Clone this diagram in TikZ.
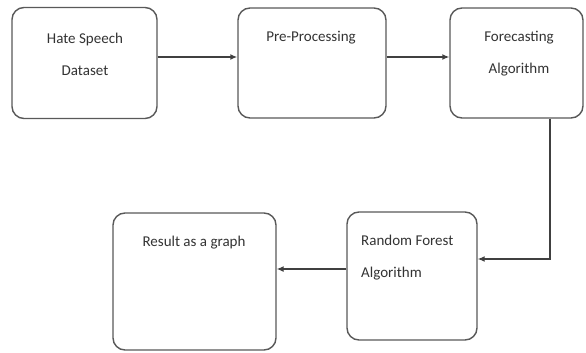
\documentclass[tikz,border=0pt]{standalone}
\usepackage{fontspec}
\setmainfont{Carlito}
\usetikzlibrary{arrows.meta}
\begin{document}
\begin{tikzpicture}[x=1pt,y=-1pt,
  stage/.style={draw=black!65, line width=1.4pt, rounded corners=12pt, fill=white, inner sep=0pt},
  caption/.style={font=\fontsize{15}{32}\selectfont, text=black!80, align=center, inner sep=0pt},
  flow/.style={draw=black!75, line width=1.6pt, -{Latex[length=7pt,width=6pt]}}]
  \useasboundingbox (0,0) rectangle (586,353);
  % process boxes
  \node[stage, minimum width=145pt, minimum height=111pt] (data) at (84.5,63) {};
  \node[stage, minimum width=148pt, minimum height=110pt] (prep) at (312,63) {};
  \node[stage, minimum width=133pt, minimum height=110pt] (fore) at (516.5,63) {};
  \node[stage, minimum width=130pt, minimum height=128pt] (rf) at (412,276) {};
  \node[stage, minimum width=163pt, minimum height=137pt] (res) at (194.5,281.5) {};
  % box captions
  \node[caption] (tdata) at (85,54) {Hate Speech\\Dataset};
  \node[caption] (tprep) at (311,38) {Pre-Processing};
  \node[caption] (tfore) at (519,54) {Forecasting\\Algorithm};
  \node[caption, align=left, anchor=west] (trf) at (361,258) {Random Forest\\Algorithm};
  \node[caption] (tres) at (194,243) {Result as a graph};
  % connectors
  \draw[flow] ([yshift=6pt]data.east) -- ([yshift=6pt]prep.west);
  \draw[flow] ([yshift=6pt]prep.east) -- ([yshift=6pt]fore.west);
  \draw[flow, line width=1.2pt] ([xshift=33.5pt]fore.south) |- ([yshift=17pt]rf.east);
  \draw[flow, line width=1.2pt] ([yshift=7pt]rf.west) -- ([yshift=7pt]rf.west -| res.east);
\end{tikzpicture}
\end{document}
